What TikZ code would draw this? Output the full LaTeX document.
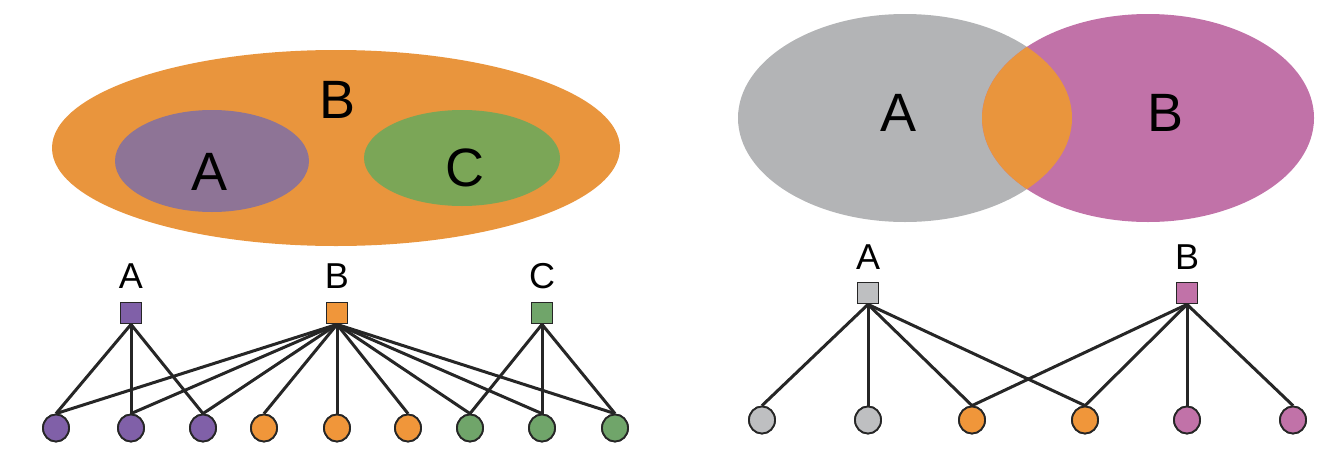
\documentclass[tikz,border=0pt]{standalone}
\usepackage{fontspec}
\setmainfont{Liberation Sans}
\usetikzlibrary{shapes.geometric}
\definecolor{cOrange}{HTML}{E9953D}
\definecolor{cPurpleE}{HTML}{8E7496}
\definecolor{cGreenE}{HTML}{7BA657}
\definecolor{cGrey}{HTML}{B3B4B6}
\definecolor{cPink}{HTML}{C172A8}
\definecolor{cPurple}{HTML}{8060A8}
\definecolor{cGreen}{HTML}{70A56A}
\definecolor{cOrangeN}{HTML}{F0963A}
\definecolor{cGreyN}{HTML}{BEBFC1}
\definecolor{cEdge}{HTML}{262626}
\tikzset{
  bigl/.style={font=\fontsize{54}{56}\selectfont, inner sep=0pt},
  smalll/.style={font=\fontsize{36}{38}\selectfont, inner sep=0pt},
  sq/.style={rectangle, draw=cEdge, line width=1.8pt, minimum size=21pt, inner sep=0pt},
  ci/.style={ellipse, draw=cEdge, line width=1.8pt, minimum width=26pt, minimum height=27pt, inner sep=0pt},
  ed/.style={draw=cEdge, line width=3pt},
}
\begin{document}
\begin{tikzpicture}[x=1pt,y=-1pt]
\useasboundingbox (0,0) rectangle (1324,450);
% left Venn
\fill[cOrange] (336,148) ellipse [x radius=284, y radius=98];
\fill[cPurpleE] (212,161) ellipse [x radius=97, y radius=51];
\fill[cGreenE] (462,158) ellipse [x radius=98, y radius=48];
\node[bigl] (lB) at (338,100) {B};
\node[bigl] (lA) at (210,172) {A};
\node[bigl] (lC) at (465,168) {C};
% right Venn
\fill[cGrey] (905,118) ellipse [x radius=167, y radius=104];
\fill[cPink] (1148,118) ellipse [x radius=166, y radius=104];
\begin{scope}
\clip (905,118) ellipse [x radius=167, y radius=104];
\fill[cOrange] (1148,118) ellipse [x radius=166, y radius=104];
\end{scope}
\node[bigl] (rA) at (898,113) {A};
\node[bigl] (rB) at (1165,113) {B};
% left graph
\node[smalll] (tA) at (131,276) {A};
\node[smalll] (tB) at (337,276) {B};
\node[smalll] (tC) at (542,276) {C};
\node[sq, fill=cPurple] (sA) at (131,313) {};
\node[sq, fill=cOrangeN] (sB) at (337,313) {};
\node[sq, fill=cGreen] (sC) at (542,313) {};
\foreach \i/\x/\c in {1/56/cPurple,2/131/cPurple,3/203/cPurple,4/264/cOrangeN,5/337/cOrangeN,6/408/cOrangeN,7/470/cGreen,8/542/cGreen,9/615/cGreen}
  \node[ci, fill=\c] (c\i) at (\x,428) {};
\foreach \i in {1,2,3} \draw[ed] (sA.south) -- (c\i.north);
\foreach \i in {1,...,9} \draw[ed] (sB.south) -- (c\i.north);
\foreach \i in {7,8,9} \draw[ed] (sC.south) -- (c\i.north);
\foreach \i/\c in {1/cPurple,2/cPurple,3/cPurple,4/cOrangeN,5/cOrangeN,6/cOrangeN,7/cGreen,8/cGreen,9/cGreen}
  \node[ci, fill=\c] at (c\i) {};
\node[sq, fill=cPurple] at (sA) {};
\node[sq, fill=cOrangeN] at (sB) {};
\node[sq, fill=cGreen] at (sC) {};
% right graph
\node[smalll] (uA) at (868,257) {A};
\node[smalll] (uB) at (1187,257) {B};
\node[sq, fill=cGreyN] (qA) at (868,293) {};
\node[sq, fill=cPink] (qB) at (1187,293) {};
\foreach \i/\x/\c in {1/762/cGreyN,2/868/cGreyN,3/972/cOrangeN,4/1085/cOrangeN,5/1187/cPink,6/1293/cPink}
  \node[ci, fill=\c] (d\i) at (\x,420) {};
\foreach \i in {1,2,3,4} \draw[ed] (qA.south) -- (d\i.north);
\foreach \i in {3,4,5,6} \draw[ed] (qB.south) -- (d\i.north);
\foreach \i/\c in {1/cGreyN,2/cGreyN,3/cOrangeN,4/cOrangeN,5/cPink,6/cPink}
  \node[ci, fill=\c] at (d\i) {};
\node[sq, fill=cGreyN] at (qA) {};
\node[sq, fill=cPink] at (qB) {};
\end{tikzpicture}
\end{document}
